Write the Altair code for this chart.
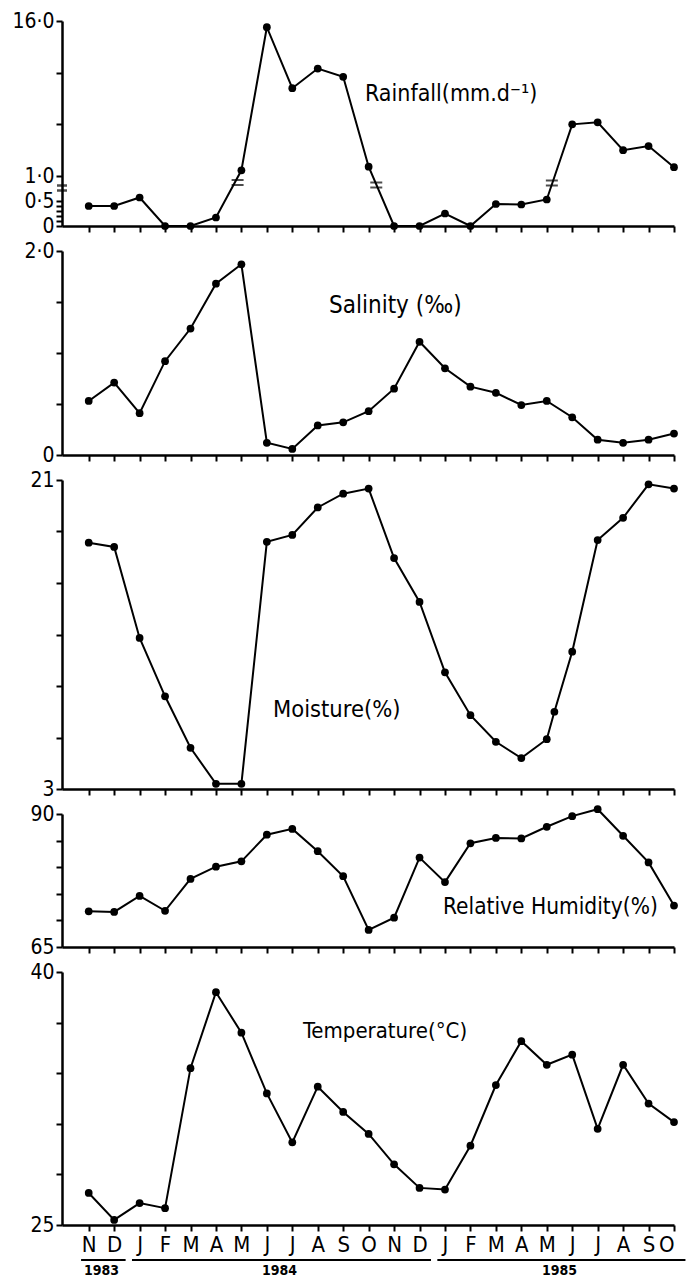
import altair as alt
import pandas as pd

# ---------------- data ----------------
months = ["N", "D", "J", "F", "M", "A", "M", "J", "J", "A", "S", "O",
          "N", "D", "J", "F", "M", "A", "M", "J", "J", "A", "S", "O"]
month_idx = list(range(24))

rainfall = [0.40, 0.40, 0.57, 0.0, 0.0, 0.17, 1.55, 15.4, 9.5, 11.4, 10.6, 1.9,
            0.0, 0.0, 0.25, 0.0, 0.44, 0.43, 0.53, 6.0, 6.2, 3.5, 3.9, 1.85]
rain_break_x = [5.85, 11.3, 18.2]
rain_break_y = [0.87, 0.82, 0.86]

salinity = [0.53, 0.71, 0.41, 0.92, 1.24, 1.68, 1.87, 0.12, 0.06, 0.29, 0.32, 0.43,
            0.65, 1.11, 0.85, 0.67, 0.61, 0.49, 0.53, 0.37, 0.15, 0.12, 0.15, 0.21]

moisture_x = list(range(19)) + [18.3] + list(range(19, 24))
moisture = [17.35, 17.1, 11.8, 8.4, 5.4, 3.3, 3.3, 17.4, 17.8, 19.4, 20.2, 20.5,
            16.45, 13.9, 9.8, 7.3, 5.75, 4.8, 5.9, 7.5, 11.0, 17.5, 18.8, 20.75, 20.5]

humidity = [71.7, 71.6, 74.6, 71.8, 77.8, 80.1, 81.1, 86.1, 87.2, 83.0, 78.3, 68.2,
            70.5, 81.8, 77.2, 84.5, 85.5, 85.4, 87.6, 89.6, 90.9, 85.9, 80.9, 72.8]

temperature = [26.9, 25.3, 26.3, 26.0, 34.3, 38.8, 36.4, 32.8, 29.9, 33.2, 31.7, 30.4,
               28.6, 27.2, 27.1, 29.7, 33.3, 35.9, 34.5, 35.1, 30.7, 34.5, 32.2, 31.1]

years = ["1983", "1984", "1985"]
year_start = [0, 2, 14]
year_end = [1, 13, 23]

# ---------------- style ----------------
W = 612
FONT = "DejaVu Sans Condensed, Liberation Sans Narrow, DejaVu Sans"
x_scale = alt.Scale(domain=[-1.05, 23], nice=False, zero=False)

AX = dict(ticks=True, tickSize=6, tickWidth=2, tickColor="black", tickOpacity=1,
          domain=True, domainColor="black", domainWidth=2.5, grid=False, title=None,
          labelOverlap=False, labelColor="black", labelFont=FONT)


def label_expr(mapping):
    expr = "''"
    for v, lab in mapping:
        expr = f"datum.value == {v} ? '{lab}' : ({expr})"
    return expr


def x_axis(labels=False):
    if labels:
        arr = "[" + ",".join(f"'{m}'" for m in months) + "]"
        return alt.Axis(values=month_idx, labels=True,
                        labelExpr=f"{arr}[datum.value]", labelFontSize=22,
                        labelPadding=3, **AX)
    return alt.Axis(values=month_idx, labels=False, **AX)


def y_axis(yvals, ylabs):
    return alt.Axis(values=yvals, labelExpr=label_expr(ylabs),
                    labelFontSize=21, labelPadding=2, **AX)


def panel(df, h, yscale, yaxis, title, tsize, tx, ty, xaxis, extra=None):
    x = alt.X("m:Q", scale=x_scale, axis=xaxis)
    y = alt.Y("v:Q", scale=yscale, axis=yaxis)
    base = alt.Chart(df)
    line = base.mark_line(color="black", strokeWidth=2).encode(x=x, y=y)
    pts = base.mark_circle(color="black", size=60, opacity=1).encode(x=x, y=y)
    txt = alt.Chart(pd.DataFrame({"t": [title]})).mark_text(
        align="left", baseline="middle", fontSize=tsize, font=FONT, color="black"
    ).encode(text="t:N", x=alt.value(tx), y=alt.value(ty))
    layers = [line, pts, txt]
    if extra:
        layers += extra
    return alt.layer(*layers).properties(width=W, height=h)


# Rainfall (broken axis via piecewise scale)
H1 = 205
rain_df = pd.DataFrame({"m": month_idx, "v": rainfall})
rain_scale = alt.Scale(domain=[0, 1, 16], range=[H1, H1 - 50, 0], nice=False, zero=False)
rain_yaxis = y_axis([0, 0.1, 0.2, 0.3, 0.4, 0.5, 1, 6, 11, 16],
                    [(0, "0"), (0.5, "0·5"), (1, "1·0"), (16, "16·0")])
xa_plain = x_axis(False)
brk_df = pd.DataFrame({"m": rain_break_x, "v": rain_break_y})
brk_layers = []
for off in (-2.5, 2.5):
    brk_layers.append(
        alt.Chart(brk_df).mark_tick(orient="horizontal", size=12, thickness=2,
                                    color="black", yOffset=off)
        .encode(x=alt.X("m:Q", scale=x_scale, axis=xa_plain),
                y=alt.Y("v:Q", scale=rain_scale, axis=rain_yaxis))
    )
    brk_layers.append(
        alt.Chart(brk_df.head(1)).mark_tick(orient="horizontal", size=10, thickness=2.5,
                                            color="black", yOffset=off + 2)
        .encode(x=alt.value(0), y=alt.Y("v:Q", scale=rain_scale, axis=rain_yaxis))
        .transform_calculate(v="0.8")
    )
p1 = panel(rain_df, H1, rain_scale, rain_yaxis, "Rainfall(mm.d⁻¹)", 23, 303, 73,
           xa_plain, extra=brk_layers)

H2 = 204
p2 = panel(pd.DataFrame({"m": month_idx, "v": salinity}), H2,
           alt.Scale(domain=[0, 2], nice=False, zero=False),
           y_axis([0, 0.5, 1, 1.5, 2], [(0, "0"), (2, "2·0")]),
           "Salinity (‰)", 24, 267, 55, xa_plain)

H3 = 309
p3 = panel(pd.DataFrame({"m": moisture_x, "v": moisture}), H3,
           alt.Scale(domain=[3, 21], nice=False, zero=False),
           y_axis([3, 6, 9, 12, 15, 18, 21], [(3, "3"), (21, "21")]),
           "Moisture(%)", 23.5, 211, 230, xa_plain)

H4 = 133
p4 = panel(pd.DataFrame({"m": month_idx, "v": humidity}), H4,
           alt.Scale(domain=[65, 90], nice=False, zero=False),
           y_axis([65, 70, 75, 80, 85, 90], [(65, "65"), (90, "90")]),
           "Relative Humidity(%)", 22.5, 381, 93, xa_plain)

H5 = 253
xa_bottom = x_axis(True)
yr_df = pd.DataFrame({"year": years, "s": year_start, "e": year_end})
yr_base = alt.Chart(yr_df).transform_calculate(
    x1="datum.s - 0.3", x2="datum.e + 0.45", mid="(datum.s + datum.e) / 2")
yr_rule = yr_base.mark_rule(color="black", strokeWidth=2).encode(
    x=alt.X("x1:Q", scale=x_scale, axis=xa_bottom), x2="x2:Q", y=alt.value(H5 + 35))
yr_text = yr_base.mark_text(fontSize=14, fontWeight="bold", font=FONT, color="black",
                            baseline="middle").encode(
    x=alt.X("mid:Q", scale=x_scale, axis=xa_bottom), y=alt.value(H5 + 46), text="year:N")
p5 = panel(pd.DataFrame({"m": month_idx, "v": temperature}), H5,
           alt.Scale(domain=[25, 40], nice=False, zero=False),
           y_axis([25, 28, 31, 34, 37, 40], [(25, "25"), (40, "40")]),
           "Temperature(°C)", 22, 241, 59, xa_bottom, extra=[yr_rule, yr_text])

chart = alt.vconcat(p1, p2, p3, p4, p5, spacing=4).properties(
    padding={"left": 3, "top": 2, "right": 0, "bottom": 0}
).configure_view(stroke=None)

chart.save("out.html", embed_options={"renderer": "svg", "actions": False})
